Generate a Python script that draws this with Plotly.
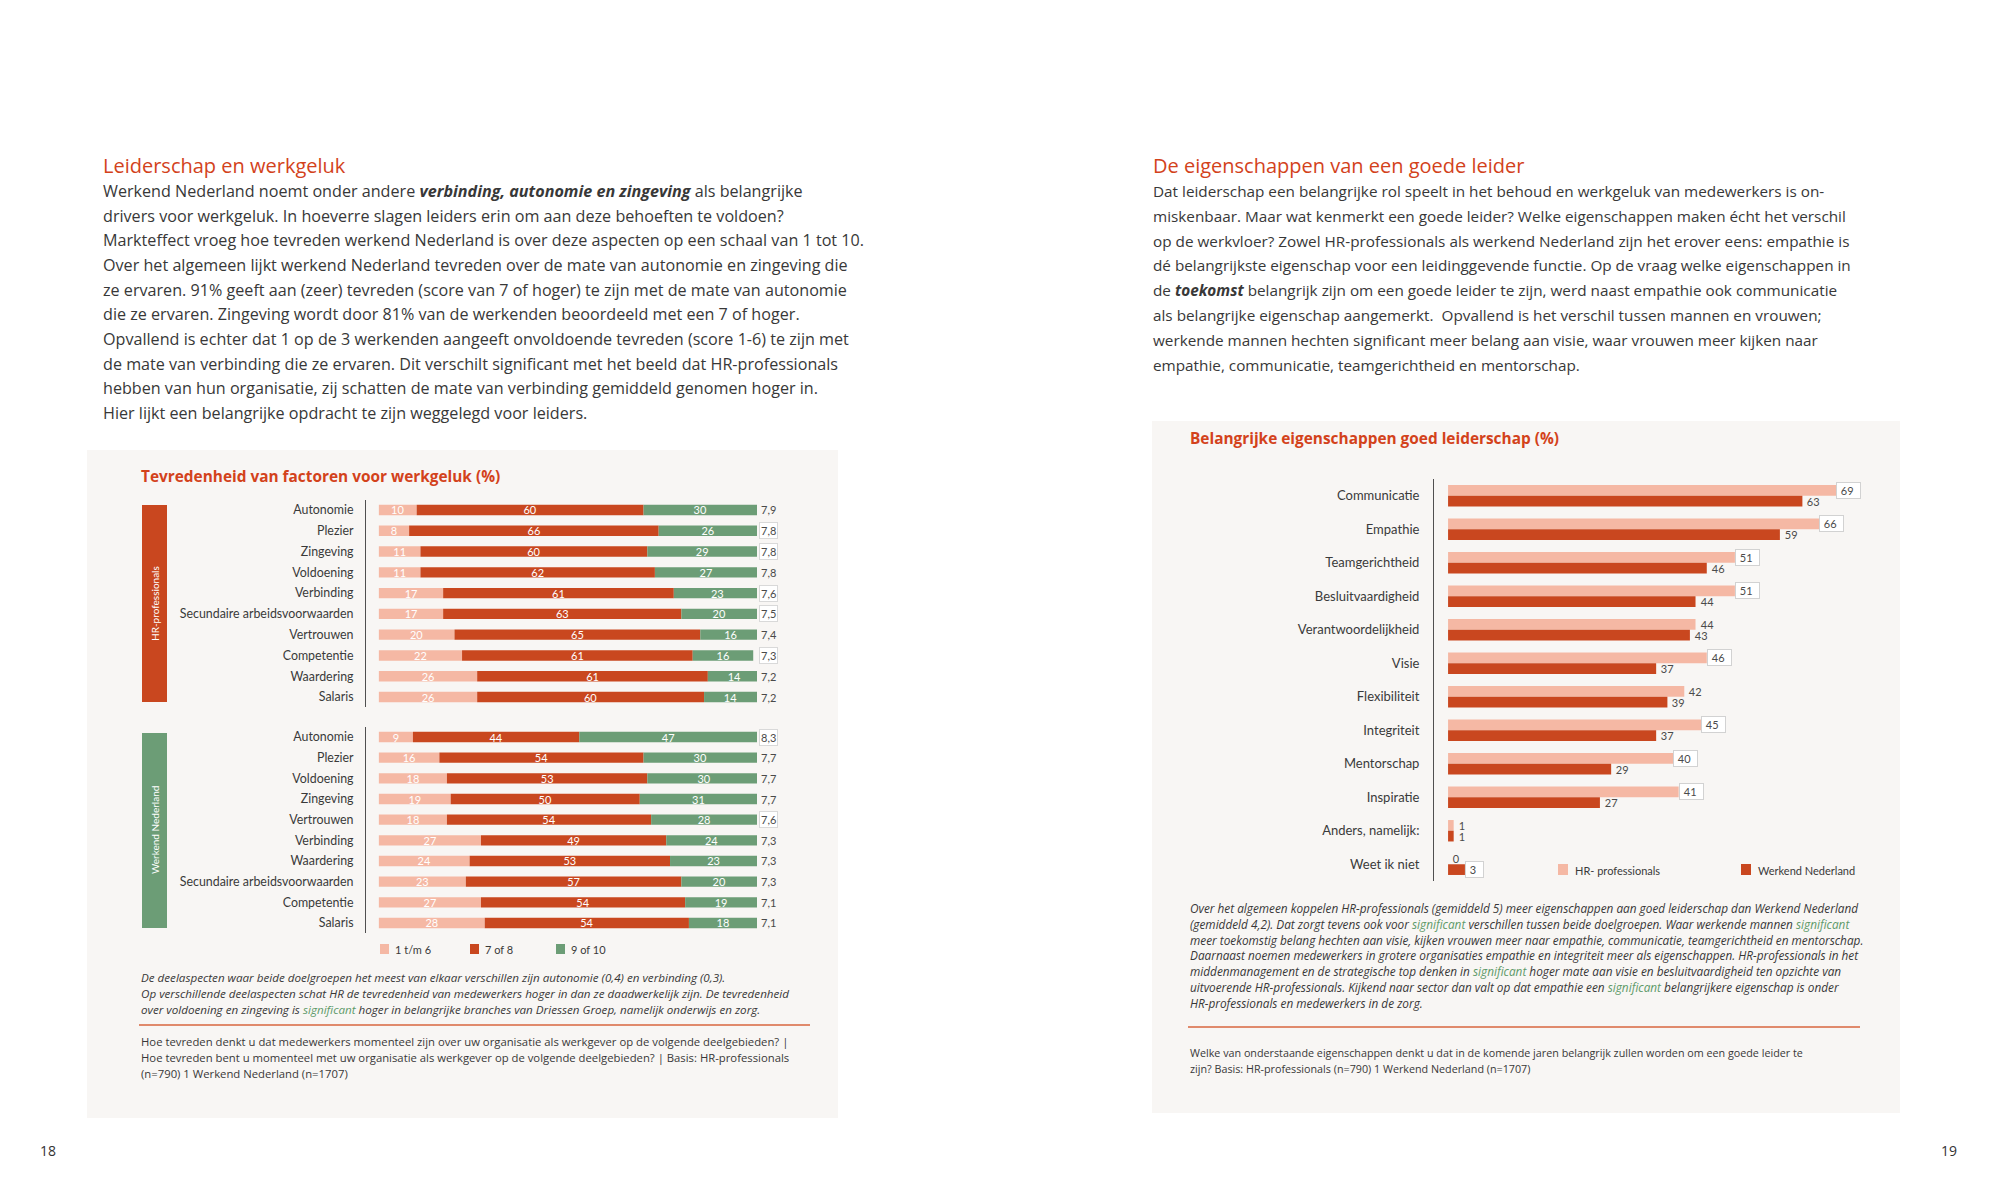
import plotly.graph_objects as go

# ---------------- data ----------------
hr_factors = ["Autonomie", "Plezier", "Zingeving", "Voldoening", "Verbinding",
              "Secundaire arbeidsvoorwaarden", "Vertrouwen", "Competentie", "Waardering", "Salaris"]
hr_low = [10, 8, 11, 11, 17, 17, 20, 22, 26, 26]
hr_mid = [60, 66, 60, 62, 61, 63, 65, 61, 61, 60]
hr_high = [30, 26, 29, 27, 23, 20, 16, 16, 14, 14]
hr_score = ["7,9", "7,8", "7,8", "7,8", "7,6", "7,5", "7,4", "7,3", "7,2", "7,2"]

wn_factors = ["Autonomie", "Plezier", "Voldoening", "Zingeving", "Vertrouwen", "Verbinding",
              "Waardering", "Secundaire arbeidsvoorwaarden", "Competentie", "Salaris"]
wn_low = [9, 16, 18, 19, 18, 27, 24, 23, 27, 28]
wn_mid = [44, 54, 53, 50, 54, 49, 53, 57, 54, 54]
wn_high = [47, 30, 30, 31, 28, 24, 23, 20, 19, 18]
wn_score = ["8,3", "7,7", "7,7", "7,7", "7,6", "7,3", "7,3", "7,3", "7,1", "7,1"]

score_groups = ["1 t/m 6", "7 of 8", "9 of 10"]
panel_groups = ["HR-professionals", "Werkend Nederland"]

traits = ["Communicatie", "Empathie", "Teamgerichtheid", "Besluitvaardigheid", "Verantwoordelijkheid",
          "Visie", "Flexibiliteit", "Integriteit", "Mentorschap", "Inspiratie", "Anders, namelijk:", "Weet ik niet"]
traits_hr = [69, 66, 51, 51, 44, 46, 42, 45, 40, 41, 1, 0]
traits_wn = [63, 59, 46, 44, 43, 37, 39, 37, 29, 27, 1, 3]
trait_groups = ["HR- professionals", "Werkend Nederland"]

# label boxes seen in the source layout (style only)
hr_score_boxed = [1, 2, 4, 5, 7]
wn_score_boxed = [0, 4]
traits_hr_boxed = [0, 1, 2, 3, 5, 7, 8, 9]
traits_wn_boxed = [11]

# ---------------- style ----------------
W, H = 2000, 1200
FONT = "'Open Sans', Lato, sans-serif"
CFONT = "Lato, 'Open Sans', sans-serif"
C_LIGHT = "#f5b8a4"
C_DARK = "#c9471f"
C_GREEN = "#6c9d76"
C_TITLE = "#d3421b"
C_SIG = "#5e9a69"
TEXT = "#383838"
PANEL = "#f8f6f4"


def X(p):
    return p / W


def Y(p):
    return 1 - p / H


fig = go.Figure()
ann = []
shapes = []


def txt(x, y, s, size=16, color=TEXT, anchor="left", family=FONT, **kw):
    ann.append(dict(xref="paper", yref="paper", x=X(x), y=Y(y), text=s, showarrow=False,
                    xanchor=anchor, yanchor="middle",
                    font=dict(size=size, color=color, family=family), **kw))


def rect(x0, y0, x1, y1, color, line=None):
    shapes.append(dict(type="rect", xref="paper", yref="paper", x0=X(x0), x1=X(x1),
                       y0=Y(y1), y1=Y(y0), fillcolor=color,
                       line=dict(width=0) if line is None else line, layer="below"))


# panels
rect(87, 450, 838, 1118, PANEL)
rect(1152, 421, 1900, 1113, PANEL)

# ---------------- left stacked bars ----------------
seg_colors = [C_LIGHT, C_DARK, C_GREEN]
for axis_id, cats, lo, mid, hi in [("", hr_factors, hr_low, hr_mid, hr_high),
                                   ("2", wn_factors, wn_low, wn_mid, wn_high)]:
    bases = [[0] * len(lo), lo, [a + b for a, b in zip(lo, mid)]]
    for seg, vals, base, col in zip(score_groups, [lo, mid, hi], bases, seg_colors):
        fig.add_trace(go.Bar(
            x=vals, y=cats, base=base, orientation="h", name=seg,
            marker=dict(color=col, line=dict(width=0)), width=0.5,
            text=[str(v) for v in vals], textposition="inside", insidetextanchor="middle",
            textangle=0, constraintext="none",
            textfont=dict(color="white", size=11, family=CFONT),
            xaxis="x" + axis_id, yaxis="y" + axis_id, showlegend=False, hoverinfo="skip"))

for xa, ya, cats, scores, boxed in [("x", "y", hr_factors, hr_score, hr_score_boxed),
                                    ("x2", "y2", wn_factors, wn_score, wn_score_boxed)]:
    for i, (c, s) in enumerate(zip(cats, scores)):
        extra = dict(bordercolor="#d9d9d9", borderwidth=1, borderpad=1, bgcolor="white") if i in boxed else {}
        ann.append(dict(xref=xa, yref=ya, x=100, y=c, text=s, showarrow=False, xanchor="left",
                        yanchor="middle", xshift=2,
                        font=dict(size=11, color="#4a4a4a", family=CFONT), **extra))

# ---------------- right grouped bars ----------------
for name, vals, col, off in [(trait_groups[0], traits_hr, C_LIGHT, -0.32),
                             (trait_groups[1], traits_wn, C_DARK, 0.0)]:
    fig.add_trace(go.Bar(
        x=vals, y=traits, orientation="h", name=name, width=0.32, offset=off,
        marker=dict(color=col, line=dict(width=0)),
        xaxis="x3", yaxis="y3", showlegend=False, hoverinfo="skip"))

for vals, shift, boxed in [(traits_hr, 5.4, traits_hr_boxed), (traits_wn, -5.4, traits_wn_boxed)]:
    for i, (c, v) in enumerate(zip(traits, vals)):
        extra = dict(bordercolor="#d2d2d2", borderwidth=1, borderpad=1, bgcolor="white") if i in boxed else {}
        ann.append(dict(xref="x3", yref="y3", x=v, y=c, text="&nbsp;" + str(v) + "&nbsp;&nbsp;",
                        showarrow=False, xanchor="left", yanchor="middle", xshift=0, yshift=shift,
                        font=dict(size=11, color="#4a4a4a", family=CFONT), **extra))

# ---------------- axes ----------------
ycat = dict(type="category", showline=True, linecolor="#505050", linewidth=1, ticks="",
            showgrid=False, zeroline=False, ticklabelstandoff=9,
            tickfont=dict(size=12.4, color="#3a3a3a", family=CFONT), fixedrange=True)
xhide = dict(visible=False, showgrid=False, zeroline=False, fixedrange=True)

fig.update_layout(
    width=W, height=H, margin=dict(l=0, r=0, t=0, b=0),
    paper_bgcolor="white", plot_bgcolor="rgba(0,0,0,0)",
    barmode="overlay", showlegend=False,
    uniformtext=dict(mode="show", minsize=10),
    xaxis=dict(xhide, domain=[X(366), X(757)], range=[-3.4, 100], anchor="y"),
    yaxis=dict(ycat, domain=[Y(707.4), Y(499.6)], range=[9.5, -0.5], anchor="x"),
    xaxis2=dict(xhide, domain=[X(366), X(757)], range=[-3.4, 100], anchor="y2"),
    yaxis2=dict(ycat, domain=[Y(933.3), Y(726.7)], range=[9.5, -0.5], anchor="x2"),
    xaxis3=dict(xhide, domain=[X(1434), X(1898)], range=[-2.5, 80], anchor="y3"),
    yaxis3=dict(ycat, domain=[Y(881), Y(479)], range=[11.5, -0.5], anchor="x3",
                ticklabelstandoff=11, tickfont=dict(size=13, color="#3a3a3a", family=CFONT)),
)

# side group bars (left chart)
rect(142, 505, 167, 702, C_DARK)
rect(142, 733, 167, 928, C_GREEN)
txt(154.5, 603.5, panel_groups[0], size=10, color="white", anchor="center", textangle=-90, family=CFONT)
txt(154.5, 830.5, panel_groups[1], size=10, color="white", anchor="center", textangle=-90, family=CFONT)

# left legend
for xs, lab, col in zip([380, 470, 556], score_groups, seg_colors):
    rect(xs, 944, xs + 9, 954, col)
    txt(xs + 13, 949, lab, size=11, color="#3a3a3a", family=CFONT)

# right legend
for xs, lab, col in zip([1558, 1741], trait_groups, [C_LIGHT, C_DARK]):
    rect(xs, 864, xs + 10, 875, col)
    txt(xs + 15, 870, lab, size=11, color="#3a3a3a", family=CFONT)

# ---------------- texts ----------------
txt(101, 166, "Leiderschap en werkgeluk", size=20, color=C_TITLE)
left_par = [
    "Werkend Nederland noemt onder andere <b><i>verbinding, autonomie en zingeving</i></b> als belangrijke",
    "drivers voor werkgeluk. In hoeverre slagen leiders erin om aan deze behoeften te voldoen?",
    "Markteffect vroeg hoe tevreden werkend Nederland is over deze aspecten op een schaal van 1 tot 10.",
    "Over het algemeen lijkt werkend Nederland tevreden over de mate van autonomie en zingeving die",
    "ze ervaren. 91% geeft aan (zeer) tevreden (score van 7 of hoger) te zijn met de mate van autonomie",
    "die ze ervaren. Zingeving wordt door 81% van de werkenden beoordeeld met een 7 of hoger.",
    "Opvallend is echter dat 1 op de 3 werkenden aangeeft onvoldoende tevreden (score 1-6) te zijn met",
    "de mate van verbinding die ze ervaren. Dit verschilt significant met het beeld dat HR-professionals",
    "hebben van hun organisatie, zij schatten de mate van verbinding gemiddeld genomen hoger in.",
    "Hier lijkt een belangrijke opdracht te zijn weggelegd voor leiders.",
]
for i, line in enumerate(left_par):
    txt(101, 191 + i * 24.65, line, size=16.15)

txt(1151, 166, "De eigenschappen van een goede leider", size=20, color=C_TITLE)
right_par = [
    "Dat leiderschap een belangrijke rol speelt in het behoud en werkgeluk van medewerkers is on-",
    "miskenbaar. Maar wat kenmerkt een goede leider? Welke eigenschappen maken écht het verschil",
    "op de werkvloer? Zowel HR-professionals als werkend Nederland zijn het erover eens: empathie is",
    "dé belangrijkste eigenschap voor een leidinggevende functie. Op de vraag welke eigenschappen in",
    "de <b><i>toekomst</i></b> belangrijk zijn om een goede leider te zijn, werd naast empathie ook communicatie",
    "als belangrijke eigenschap aangemerkt.  Opvallend is het verschil tussen mannen en vrouwen;",
    "werkende mannen hechten significant meer belang aan visie, waar vrouwen meer kijken naar",
    "empathie, communicatie, teamgerichtheid en mentorschap.",
]
for i, line in enumerate(right_par):
    txt(1151, 191 + i * 24.8, line, size=15.3)

# chart titles
txt(139, 477, "<b>Tevredenheid van factoren voor werkgeluk (%)</b>", size=15.4, color=C_TITLE)
txt(1188, 438, "<b>Belangrijke eigenschappen goed leiderschap (%)</b>", size=15.4, color=C_TITLE)

SIG = "<span style='color:%s'>significant</span>" % C_SIG
left_note = [
    "De deelaspecten waar beide doelgroepen het meest van elkaar verschillen zijn autonomie (0,4) en verbinding (0,3).",
    "Op verschillende deelaspecten schat HR de tevredenheid van medewerkers hoger in dan ze daadwerkelijk zijn. De tevredenheid",
    "over voldoening en zingeving is " + SIG + " hoger in belangrijke branches van Driessen Groep, namelijk onderwijs en zorg.",
]
for i, line in enumerate(left_note):
    txt(139, 977 + i * 16, "<i>" + line + "</i>", size=11.65)

shapes.append(dict(type="line", xref="paper", yref="paper", x0=X(139), x1=X(810),
                   y0=Y(1025), y1=Y(1025), line=dict(color="#e08a6c", width=2)))
left_src = [
    "Hoe tevreden denkt u dat medewerkers momenteel zijn over uw organisatie als werkgever op de volgende deelgebieden? |",
    "Hoe tevreden bent u momenteel met uw organisatie als werkgever op de volgende deelgebieden? | Basis: HR-professionals",
    "(n=790) 1 Werkend Nederland (n=1707)",
]
for i, line in enumerate(left_src):
    txt(139, 1041 + i * 16, line, size=11.3)

right_note = [
    "Over het algemeen koppelen HR-professionals (gemiddeld 5) meer eigenschappen aan goed leiderschap dan Werkend Nederland",
    "(gemiddeld 4,2). Dat zorgt tevens ook voor " + SIG + " verschillen tussen beide doelgroepen. Waar werkende mannen " + SIG,
    "meer toekomstig belang hechten aan visie, kijken vrouwen meer naar empathie, communicatie, teamgerichtheid en mentorschap.",
    "Daarnaast noemen medewerkers in grotere organisaties empathie en integriteit meer als eigenschappen. HR-professionals in het",
    "middenmanagement en de strategische top denken in " + SIG + " hoger mate aan visie en besluitvaardigheid ten opzichte van",
    "uitvoerende HR-professionals. Kijkend naar sector dan valt op dat empathie een " + SIG + " belangrijkere eigenschap is onder",
    "HR-professionals en medewerkers in de zorg.",
]
for i, line in enumerate(right_note):
    txt(1188, 908 + i * 15.8, "<i>" + line + "</i>", size=11.8)

shapes.append(dict(type="line", xref="paper", yref="paper", x0=X(1188), x1=X(1860),
                   y0=Y(1027), y1=Y(1027), line=dict(color="#e08a6c", width=2)))
right_src = [
    "Welke van onderstaande eigenschappen denkt u dat in de komende jaren belangrijk zullen worden om een goede leider te",
    "zijn? Basis: HR-professionals (n=790) 1 Werkend Nederland (n=1707)",
]
for i, line in enumerate(right_src):
    txt(1188, 1053 + i * 16, line, size=10.75)

# page numbers
txt(48, 1150, "18", size=14, color="#333333", anchor="center")
txt(1949, 1150, "19", size=14, color="#333333", anchor="center")

fig.update_layout(annotations=ann, shapes=shapes)
fig.write_html("out.html", config={"displayModeBar": False},
               post_script="document.body.style.margin='0';document.body.style.overflow='hidden';")
